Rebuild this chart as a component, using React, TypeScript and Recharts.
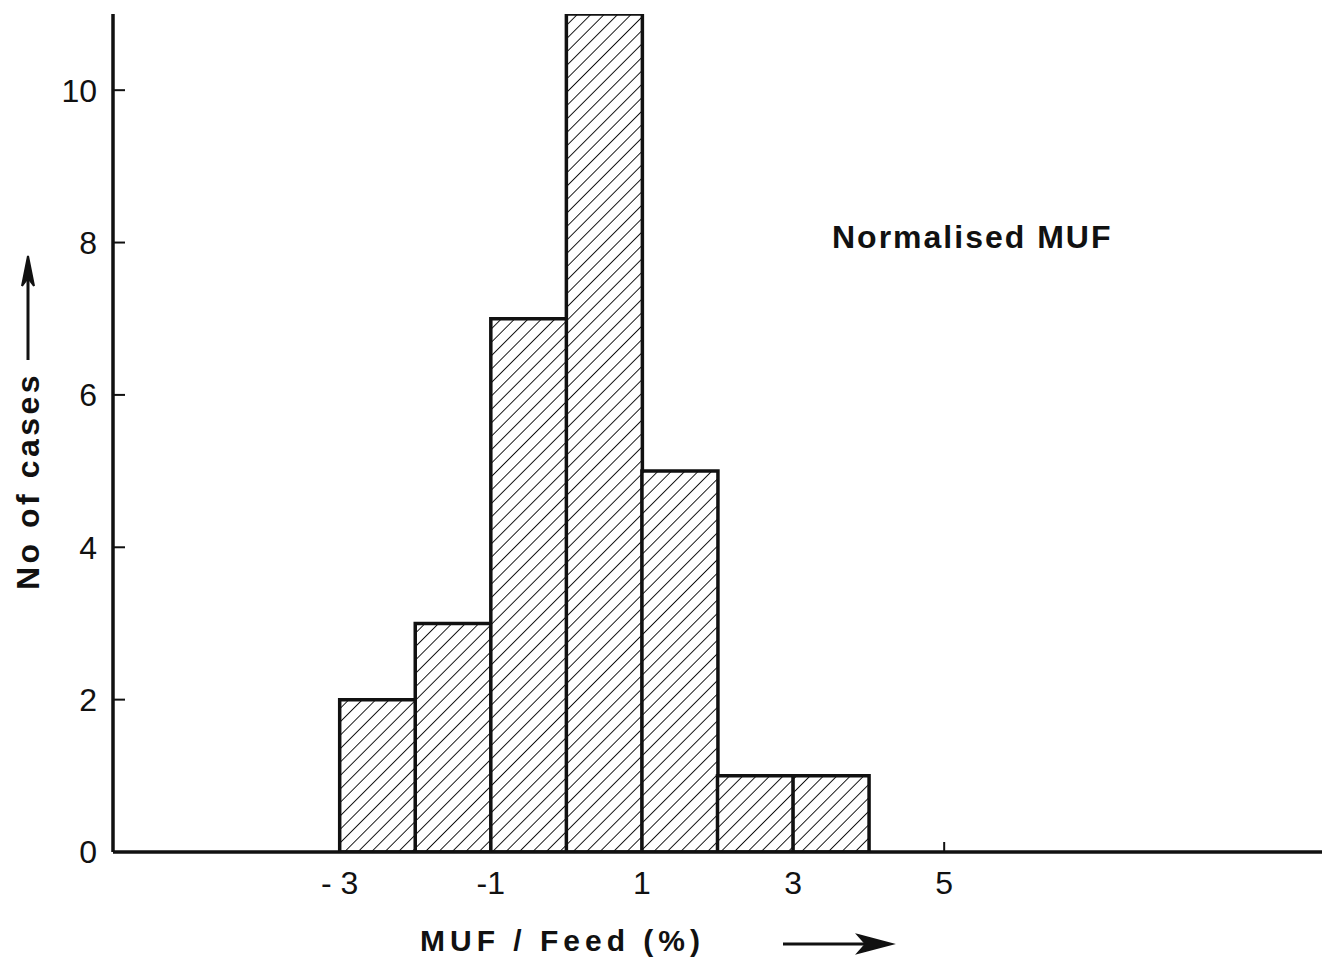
import { ComposedChart, Bar, XAxis, YAxis } from 'recharts';

// histogram bins (centre of each 1% wide bin) and counts
const binCentres = [-2.5, -1.5, -0.5, 0.5, 1.5, 2.5, 3.5];
const counts = [2, 3, 7, 11, 5, 1, 1];

const xTicks = [-3, -1, 1, 3, 5];
const xTickLabels = ['- 3', '-1', '1', '3', '5'];
const yTicks = [0, 2, 4, 6, 8, 10];

const data = binCentres.map((x, i) => ({ x, count: counts[i] }));

const font = '"Liberation Sans", Arial, sans-serif';

export default function App() {
  return (
    <div style={{ position: 'absolute', left: 0, top: 0, width: 1322, height: 961, background: '#fff' }}>
      <ComposedChart
        width={1322}
        height={961}
        data={data}
        margin={{ top: 14, right: 0, left: 0, bottom: 0 }}
        barCategoryGap={0}
        barGap={0}
      >
        <defs>
          <pattern id="hatch" width="9.5" height="9.5" patternUnits="userSpaceOnUse" patternTransform="rotate(45)">
            <rect width="9.5" height="9.5" fill="#fff" />
            <line x1="0" y1="0" x2="0" y2="9.5" stroke="#111" strokeWidth="1.9" />
          </pattern>
        </defs>
        <XAxis
          dataKey="x"
          type="number"
          domain={[-6, 10]}
          allowDataOverflow
          ticks={xTicks}
          tickFormatter={(v: number) => xTickLabels[xTicks.indexOf(v)]}
          interval={0}
          height={109}
          axisLine={{ stroke: '#111', strokeWidth: 3.5 }}
          tickLine={{ stroke: '#111', strokeWidth: 2 }}
          tickSize={-10}
          tickMargin={29}
          tick={{ fill: '#111', fontSize: 32, fontFamily: font }}
        />
        <YAxis
          type="number"
          domain={[0, 11]}
          allowDataOverflow
          ticks={yTicks}
          interval={0}
          width={113}
          axisLine={{ stroke: '#111', strokeWidth: 3.5 }}
          tickLine={{ stroke: '#111', strokeWidth: 2 }}
          tickSize={-12}
          tickMargin={28}
          tick={{ fill: '#111', fontSize: 32, fontFamily: font }}
        />
        <Bar dataKey="count" fill="url(#hatch)" stroke="#111" strokeWidth={3.5} isAnimationActive={false} />
      </ComposedChart>
      <svg
        width={1322}
        height={961}
        style={{ position: 'absolute', left: 0, top: 0, pointerEvents: 'none' }}
      >
        <text x={832} y={248} fontFamily={font} fontWeight="bold" fontSize={32} letterSpacing={2} fill="#111">
          Normalised MUF
        </text>
        <text
          transform="translate(39, 590) rotate(-90)"
          fontFamily={font}
          fontWeight="bold"
          fontSize={32}
          letterSpacing={3.5}
          fill="#111"
        >
          No of cases
        </text>
        <line x1={28} y1={360} x2={28} y2={262} stroke="#111" strokeWidth={3} />
        <path d="M22 286 L28 256 L34 286 L28 278 Z" fill="#111" stroke="#111" strokeWidth={2} />
        <text x={420} y={951} fontFamily={font} fontWeight="bold" fontSize={30} letterSpacing={5} fill="#111">
          MUF / Feed (%)
        </text>
        <line x1={783} y1={944} x2={885} y2={944} stroke="#111" strokeWidth={3} />
        <path d="M858 935 L892 944 L858 953 L866 944 Z" fill="#111" stroke="#111" strokeWidth={2} />
      </svg>
    </div>
  );
}
